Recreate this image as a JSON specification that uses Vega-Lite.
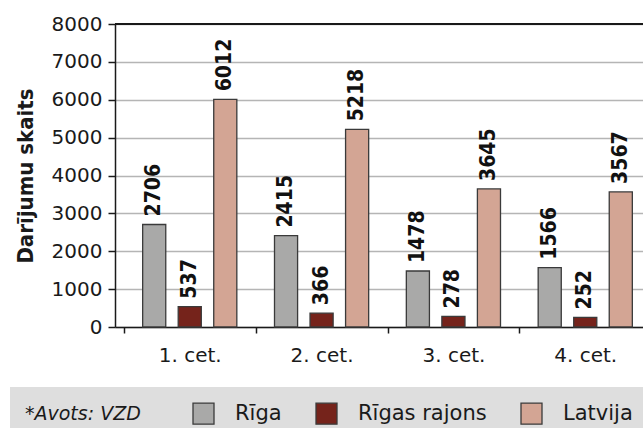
{
  "$schema": "https://vega.github.io/schema/vega-lite/v6.json",
  "autosize": {"type": "none"},
  "width": 528,
  "height": 303,
  "padding": {"left": 115, "top": 24, "right": 0, "bottom": 101},
  "background": "white",
  "config": {
    "font": "DejaVu Sans",
    "view": {"stroke": null},
    "axis": {"labelColor": "#1a1a1a", "titleColor": "#1a1a1a", "domainColor": "#1a1a1a", "tickColor": "#1a1a1a"}
  },
  "data": {
    "values": [
      {"q": "1. cet.", "s": "Rīga", "v": 2706},
      {"q": "1. cet.", "s": "Rīgas rajons", "v": 537},
      {"q": "1. cet.", "s": "Latvija", "v": 6012},
      {"q": "2. cet.", "s": "Rīga", "v": 2415},
      {"q": "2. cet.", "s": "Rīgas rajons", "v": 366},
      {"q": "2. cet.", "s": "Latvija", "v": 5218},
      {"q": "3. cet.", "s": "Rīga", "v": 1478},
      {"q": "3. cet.", "s": "Rīgas rajons", "v": 278},
      {"q": "3. cet.", "s": "Latvija", "v": 3645},
      {"q": "4. cet.", "s": "Rīga", "v": 1566},
      {"q": "4. cet.", "s": "Rīgas rajons", "v": 252},
      {"q": "4. cet.", "s": "Latvija", "v": 3567}
    ]
  },
  "encoding": {
    "x": {
      "field": "q", "type": "nominal",
      "sort": ["1. cet.", "2. cet.", "3. cet.", "4. cet."],
      "scale": {"paddingInner": 0, "paddingOuter": 0.067, "range": [0, 545]},
      "axis": {"title": null, "labelAngle": 0, "tickBand": "extent", "labelFontSize": 20, "labelPadding": 12, "tickSize": 6, "domainWidth": 1.5, "tickWidth": 1.5}
    },
    "xOffset": {
      "field": "s", "type": "nominal",
      "scale": {"domain": ["Rīga", "Rīgas rajons", "Latvija"], "paddingInner": 0.35, "paddingOuter": 0.53}
    },
    "y": {
      "field": "v", "type": "quantitative",
      "scale": {"domain": [0, 8000], "nice": false},
      "axis": {"title": "Darījumu skaits", "format": "d", "values": [0,1000,2000,3000,4000,5000,6000,7000,8000], "labelFontSize": 20, "labelPadding": 6, "tickSize": 7, "domainWidth": 1.5, "tickWidth": 1.5, "gridColor": "#b5b5b5", "gridWidth": 1.5, "titleFont": "DejaVu Sans Condensed", "titleFontSize": 22, "titleFontWeight": "bold", "titlePadding": 14}
    }
  },
  "layer": [
    {
      "mark": {"type": "bar", "stroke": "#3a3a3a", "strokeWidth": 1.3},
      "encoding": {
        "color": {
          "field": "s", "type": "nominal",
          "scale": {"domain": ["Rīga", "Rīgas rajons", "Latvija"], "range": ["#a9a9a8", "#75231b", "#d3a594"]},
          "legend": {
            "title": "*Avots: VZD",
            "orient": "none", "direction": "horizontal",
            "legendX": -105, "legendY": 363,
            "fillColor": "#dedede", "padding": 15,
            "titleOrient": "left", "titleFontStyle": "italic", "titleFontWeight": "normal", "titleFontSize": 19, "titleColor": "#1a1a1a", "titlePadding": 51, "titleBaseline": "middle",
            "symbolType": "square", "symbolSize": 441, "symbolStrokeColor": "#3a3a3a", "symbolStrokeWidth": 1.3, "symbolOpacity": 1,
            "labelFontSize": 21, "labelColor": "#1a1a1a", "labelOffset": 20, "columnPadding": 31
          }
        }
      }
    },
    {
      "mark": {"type": "text", "angle": 270, "align": "left", "baseline": "middle", "dx": 8, "font": "DejaVu Sans Condensed", "fontWeight": "bold", "fontSize": 21, "fill": "#111111"},
      "encoding": {"text": {"field": "v", "type": "quantitative", "format": "d"}}
    },
    {
      "mark": {"type": "rule", "color": "#1a1a1a", "strokeWidth": 1.5},
      "encoding": {"y": {"datum": 8000}, "x": null, "xOffset": null}
    }
  ]
}
